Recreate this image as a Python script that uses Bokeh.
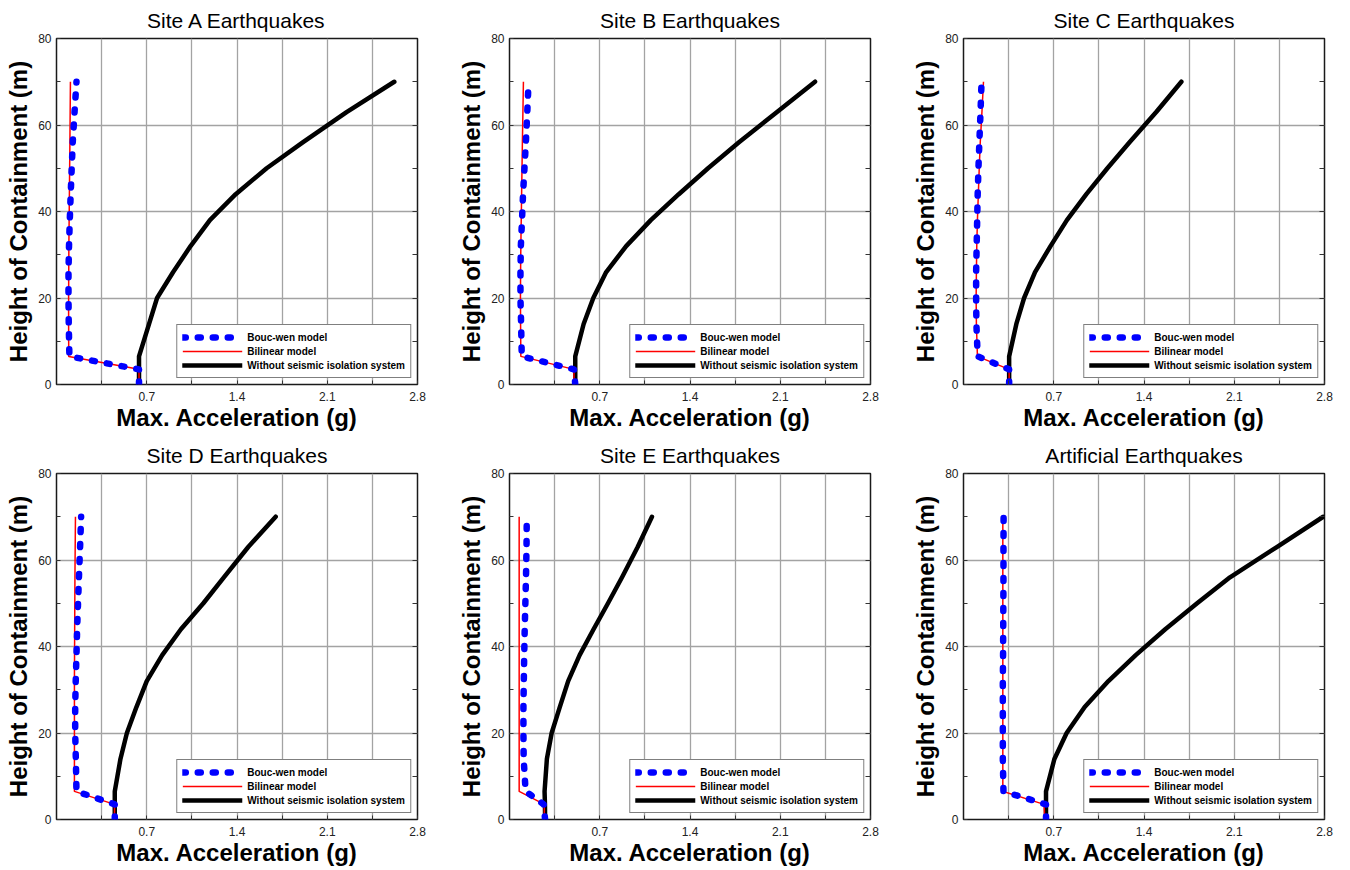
from bokeh.plotting import figure
from bokeh.models import (Range1d, FixedTicker, LinearAxis, Legend, LegendItem,
                          CustomJSTickFormatter)
from bokeh.layouts import gridplot
from bokeh.embed import file_html
from bokeh.resources import INLINE

# ---------------- data ----------------
heights = [0, 3.5, 6.5, 14, 20, 26, 32, 38, 44, 50, 56, 63, 70]

titles = ["Site A Earthquakes", "Site B Earthquakes", "Site C Earthquakes",
          "Site D Earthquakes", "Site E Earthquakes", "Artificial Earthquakes"]

legend_labels = ["Bouc-wen model", "Bilinear model", "Without seismic isolation system"]

x_ticks = [0.7, 1.4, 2.1, 2.8]
x_minor_ticks = [0.35, 1.05, 1.75, 2.45]
y_ticks = [0, 20, 40, 60, 80]
y_minor_ticks = [10, 30, 50, 70]
right_ticks = [10, 20, 30, 40, 50, 60, 70]

site_a_bouc = [0.64, 0.64, 0.10, 0.095, 0.093, 0.093, 0.097, 0.103, 0.11, 0.118, 0.126, 0.14, 0.155]
site_a_bilinear = [0.64, 0.64, 0.095, 0.094, 0.094, 0.095, 0.096, 0.098, 0.100, 0.102, 0.104, 0.106, 0.108]
site_a_without = [0.64, 0.64, 0.64, 0.718, 0.78, 0.905, 1.04, 1.19, 1.39, 1.63, 1.91, 2.25, 2.62]

site_b_bouc = [0.51, 0.50, 0.095, 0.09, 0.085, 0.085, 0.088, 0.097, 0.105, 0.116, 0.127, 0.138, 0.148]
site_b_bilinear = [0.50, 0.50, 0.088, 0.086, 0.085, 0.086, 0.088, 0.091, 0.094, 0.097, 0.100, 0.104, 0.108]
site_b_without = [0.51, 0.51, 0.51, 0.575, 0.65, 0.75, 0.905, 1.096, 1.313, 1.54, 1.78, 2.075, 2.37]

site_c_bouc = [0.354, 0.354, 0.11, 0.10, 0.098, 0.098, 0.102, 0.106, 0.11, 0.116, 0.123, 0.132, 0.14]
site_c_bilinear = [0.354, 0.354, 0.108, 0.10, 0.098, 0.10, 0.103, 0.108, 0.115, 0.122, 0.13, 0.143, 0.155]
site_c_without = [0.354, 0.354, 0.354, 0.41, 0.47, 0.555, 0.675, 0.802, 0.953, 1.116, 1.288, 1.495, 1.69]

site_d_bouc = [0.452, 0.452, 0.155, 0.15, 0.145, 0.145, 0.149, 0.155, 0.16, 0.167, 0.174, 0.183, 0.191]
site_d_bilinear = [0.45, 0.45, 0.139, 0.139, 0.139, 0.139, 0.139, 0.14, 0.141, 0.142, 0.143, 0.145, 0.147]
site_d_without = [0.452, 0.452, 0.452, 0.496, 0.546, 0.62, 0.70, 0.82, 0.965, 1.139, 1.298, 1.487, 1.70]

site_e_bouc = [0.276, 0.265, 0.125, 0.11, 0.108, 0.108, 0.111, 0.114, 0.118, 0.123, 0.128, 0.132, 0.134]
site_e_bilinear = [0.27, 0.27, 0.075, 0.075, 0.075, 0.075, 0.075, 0.075, 0.075, 0.075, 0.075, 0.075, 0.075]
site_e_without = [0.276, 0.275, 0.272, 0.29, 0.327, 0.39, 0.455, 0.544, 0.652, 0.764, 0.873, 0.994, 1.105]

artificial_bouc = [0.64, 0.64, 0.31, 0.305, 0.305, 0.305, 0.305, 0.307, 0.308, 0.309, 0.31, 0.31, 0.311]
artificial_bilinear = [0.63, 0.625, 0.305, 0.305, 0.305, 0.305, 0.305, 0.305, 0.305, 0.305, 0.305, 0.305, 0.305]
artificial_without = [0.64, 0.64, 0.64, 0.705, 0.80, 0.94, 1.124, 1.336, 1.565, 1.812, 2.067, 2.43, 2.79]

series = [
    (site_a_bouc, site_a_bilinear, site_a_without),
    (site_b_bouc, site_b_bilinear, site_b_without),
    (site_c_bouc, site_c_bilinear, site_c_without),
    (site_d_bouc, site_d_bilinear, site_d_without),
    (site_e_bouc, site_e_bilinear, site_e_without),
    (artificial_bouc, artificial_bilinear, artificial_without),
]

# ---------------- styling ----------------
FONT = "Liberation Sans"
COL_WIDTHS = [453, 454, 443]
FRAME_W, FRAME_H = 361, 346
BORDER_L, BORDER_T, BORDER_B = 56, 38, 51
GRID = "#a3a3a3"


def make_panel(i, title, bouc, bil, wo):
    col = i % 3
    w = COL_WIDTHS[col]
    p = figure(width=w, height=BORDER_T + FRAME_H + BORDER_B,
               x_range=Range1d(0, 2.8), y_range=Range1d(0, 80),
               output_backend="svg", toolbar_location=None,
               min_border_left=BORDER_L, min_border_right=w - BORDER_L - FRAME_W,
               min_border_top=BORDER_T, min_border_bottom=BORDER_B,
               title=title)
    p.background_fill_color = "white"
    p.border_fill_color = "white"
    p.outline_line_color = "#1a1a1a"
    p.outline_line_width = 1.5

    p.title.text_font = FONT
    p.title.text_font_size = "21px"
    p.title.text_font_style = "normal"
    p.title.text_color = "black"
    p.title.align = "center"
    p.title.standoff = 13

    xt = FixedTicker(ticks=x_ticks, minor_ticks=x_minor_ticks)
    yt = FixedTicker(ticks=y_ticks, minor_ticks=y_minor_ticks)

    xa = p.xaxis[0]
    xa.ticker = xt
    xa.axis_label = "Max. Acceleration (g)"
    ya = p.yaxis[0]
    ya.ticker = yt
    ya.axis_label = "Height of Containment (m)"
    for ax in (xa, ya):
        ax.axis_line_color = None
        ax.major_tick_in = 4
        ax.major_tick_out = 0
        ax.minor_tick_in = 4
        ax.minor_tick_out = 0
        ax.major_tick_line_color = "#333333"
        ax.minor_tick_line_color = "#333333"
        ax.major_label_text_font = FONT
        ax.major_label_text_font_size = "12px"
        ax.major_label_text_color = "#222222"
        ax.axis_label_text_font = FONT
        ax.axis_label_text_font_size = "24px"
        ax.axis_label_text_font_style = "bold"
        ax.axis_label_text_color = "black"
    xa.major_label_standoff = 7
    xa.axis_label_standoff = 0
    ya.major_label_standoff = 5
    ya.axis_label_standoff = 3

    p.xgrid[0].ticker = xt
    p.ygrid[0].ticker = yt
    p.xgrid.grid_line_color = GRID
    p.xgrid.grid_line_width = 1.3
    p.xgrid.minor_grid_line_color = GRID
    p.xgrid.minor_grid_line_width = 1.3
    p.ygrid.grid_line_color = GRID
    p.ygrid.grid_line_width = 1.3

    right = LinearAxis(ticker=FixedTicker(ticks=right_ticks),
                       formatter=CustomJSTickFormatter(code="return ''"),
                       major_tick_in=5, major_tick_out=0,
                       minor_tick_in=0, minor_tick_out=0,
                       major_tick_line_color="#333333",
                       axis_line_color=None,
                       major_label_standoff=0)
    p.add_layout(right, "right")

    r_wo = p.line(wo, heights, line_color="black", line_width=4.5,
                  line_join="round", line_cap="round")
    r_bil = p.line(bil, heights, line_color="red", line_width=1.5)
    r_bouc = p.line(bouc, heights, line_color="blue", line_width=6.5,
                    line_dash="3 12", line_cap="round", line_join="round")

    legend = Legend(items=[LegendItem(label=legend_labels[0], renderers=[r_bouc]),
                           LegendItem(label=legend_labels[1], renderers=[r_bil]),
                           LegendItem(label=legend_labels[2], renderers=[r_wo])],
                    location="bottom_right",
                    border_line_color="black", border_line_width=1,
                    background_fill_color="white", background_fill_alpha=1.0,
                    label_text_font=FONT, label_text_font_size="10px",
                    label_text_font_style="bold", label_text_color="black",
                    glyph_width=60, glyph_height=14, label_height=14,
                    label_standoff=5, padding=5, spacing=0, margin=6)
    p.add_layout(legend)
    return p


figs = [make_panel(i, titles[i], *series[i]) for i in range(6)]
grid = gridplot([figs[0:3], figs[3:6]], toolbar_location=None)

open("out.html", "w").write(file_html(grid, INLINE, "Max. Acceleration"))
